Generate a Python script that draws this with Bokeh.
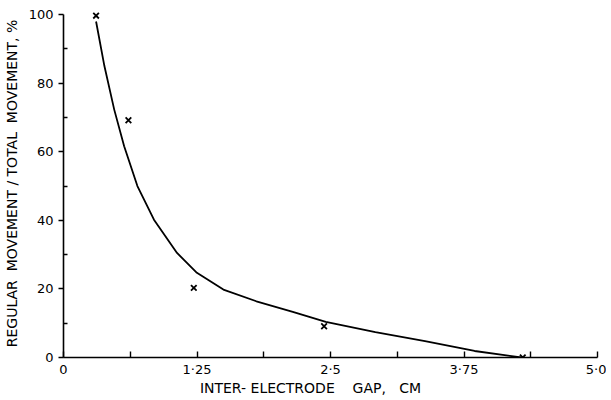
from bokeh.plotting import figure
from bokeh.models import FixedTicker, Range1d
from bokeh.embed import file_html
from bokeh.resources import INLINE

# measured points (x marks)
gap_pts = [0.305, 0.608, 1.22, 2.44, 4.30]
ratio_pts = [99.7, 69.2, 20.3, 9.1, 0]

# fitted curve
gap_curve = [0.305, 0.383, 0.475, 0.568, 0.692, 0.847, 1.063, 1.249, 1.497, 1.806, 2.147, 2.456, 2.92, 3.385, 3.849, 4.285]
ratio_curve = [98, 85, 72.3, 61.6, 50, 40.2, 30.5, 24.7, 19.8, 16.4, 13.3, 10.4, 7.4, 4.8, 1.9, 0]

x_major = [0, 1.25, 2.5, 3.75, 5.0]
x_minor = [0.625, 1.875, 3.125, 4.375]
x_labels = ["0", "1·25", "2·5", "3·75", "5·0"]
y_major = [0, 20, 40, 60, 80, 100]
y_minor = [10, 30, 50, 70, 90]

FONT = "DejaVu Sans"
NB = "\u00a0"

p = figure(width=606, height=398, output_backend="svg", toolbar_location=None,
           x_range=Range1d(0, 5.0), y_range=Range1d(0, 101.5),
           min_border_left=63, min_border_right=9, min_border_top=9, min_border_bottom=39)
p.outline_line_color = None
p.grid.visible = False
p.background_fill_color = "white"

p.line(gap_curve, ratio_curve, line_color="black", line_width=1.8)
p.scatter(gap_pts, ratio_pts, marker="x", size=8, line_color="black", line_width=1.8)

xa = p.xaxis[0]
xa.ticker = FixedTicker(ticks=x_major, minor_ticks=x_minor)
xa.major_label_overrides = {t: l for t, l in zip(x_major, x_labels)}
xa.bounds = (0, 5.0)
xa.major_tick_in = 6
xa.major_tick_out = 0
xa.minor_tick_in = 6
xa.minor_tick_out = 0
xa.major_label_standoff = 4
xa.axis_label = "INTER-" + NB + "ELECTRODE" + NB * 4 + "GAP," + NB * 3 + "CM" + NB * 9
xa.axis_label_standoff = 0

ya = p.yaxis[0]
ya.ticker = FixedTicker(ticks=y_major, minor_ticks=y_minor)
ya.bounds = (0, 100)
ya.major_tick_in = 0
ya.major_tick_out = 5
ya.minor_tick_in = 4
ya.minor_tick_out = 0
ya.major_label_standoff = 5
ya.axis_label = "REGULAR" + NB * 2 + "MOVEMENT" + NB + "/" + NB + "TOTAL" + NB * 2 + "MOVEMENT," + NB + "%"
ya.axis_label_standoff = 6

for ax in (xa, ya):
    ax.axis_line_color = "black"
    ax.axis_line_width = 1.6
    ax.major_tick_line_color = "black"
    ax.major_tick_line_width = 1.4
    ax.minor_tick_line_color = "black"
    ax.minor_tick_line_width = 1.4
    ax.major_label_text_font = FONT
    ax.major_label_text_font_size = "13px"
    ax.major_label_text_color = "black"
    ax.axis_label_text_font = FONT
    ax.axis_label_text_font_size = "14px"
    ax.axis_label_text_font_style = "normal"
    ax.axis_label_text_color = "black"

open("out.html", "w").write(file_html(p, INLINE))
